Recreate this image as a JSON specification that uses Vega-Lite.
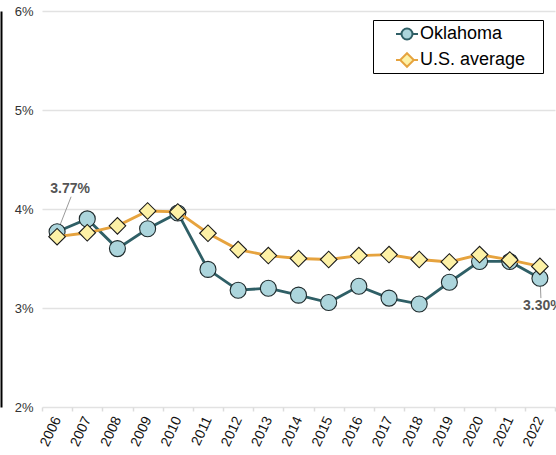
{
  "$schema": "https://vega.github.io/schema/vega-lite/v6.json",
  "autosize": "none",
  "width": 513,
  "height": 396,
  "padding": {"left": 42, "top": 11, "right": 1, "bottom": 48},
  "background": "white",
  "config": {
    "font": "Liberation Sans",
    "view": {"stroke": null}
  },
  "datasets": {
    "main": [
      {"year": "2006", "series": "Oklahoma", "value": 3.77},
      {"year": "2007", "series": "Oklahoma", "value": 3.90},
      {"year": "2008", "series": "Oklahoma", "value": 3.60},
      {"year": "2009", "series": "Oklahoma", "value": 3.80},
      {"year": "2010", "series": "Oklahoma", "value": 3.96},
      {"year": "2011", "series": "Oklahoma", "value": 3.39},
      {"year": "2012", "series": "Oklahoma", "value": 3.18},
      {"year": "2013", "series": "Oklahoma", "value": 3.20},
      {"year": "2014", "series": "Oklahoma", "value": 3.13},
      {"year": "2015", "series": "Oklahoma", "value": 3.055},
      {"year": "2016", "series": "Oklahoma", "value": 3.22},
      {"year": "2017", "series": "Oklahoma", "value": 3.10},
      {"year": "2018", "series": "Oklahoma", "value": 3.04},
      {"year": "2019", "series": "Oklahoma", "value": 3.26},
      {"year": "2020", "series": "Oklahoma", "value": 3.47},
      {"year": "2021", "series": "Oklahoma", "value": 3.47},
      {"year": "2022", "series": "Oklahoma", "value": 3.30},
      {"year": "2006", "series": "U.S. average", "value": 3.72},
      {"year": "2007", "series": "U.S. average", "value": 3.76},
      {"year": "2008", "series": "U.S. average", "value": 3.83},
      {"year": "2009", "series": "U.S. average", "value": 3.98},
      {"year": "2010", "series": "U.S. average", "value": 3.97},
      {"year": "2011", "series": "U.S. average", "value": 3.755},
      {"year": "2012", "series": "U.S. average", "value": 3.59},
      {"year": "2013", "series": "U.S. average", "value": 3.53},
      {"year": "2014", "series": "U.S. average", "value": 3.50},
      {"year": "2015", "series": "U.S. average", "value": 3.49},
      {"year": "2016", "series": "U.S. average", "value": 3.53},
      {"year": "2017", "series": "U.S. average", "value": 3.54},
      {"year": "2018", "series": "U.S. average", "value": 3.49},
      {"year": "2019", "series": "U.S. average", "value": 3.465},
      {"year": "2020", "series": "U.S. average", "value": 3.54},
      {"year": "2021", "series": "U.S. average", "value": 3.485},
      {"year": "2022", "series": "U.S. average", "value": 3.42}
    ],
    "notes": [
      {"year": "2006", "value": 3.77, "end": 4.124, "label": "3.77%"},
      {"year": "2022", "value": 3.30, "end": 3.10, "label": "3.30%"}
    ]
  },
  "encoding": {
    "x": {
      "field": "year",
      "type": "ordinal",
      "bandPosition": 0.5,
      "scale": {"type": "band", "paddingInner": 0, "paddingOuter": 0},
      "axis": {
        "title": null,
        "domain": false,
        "grid": false,
        "tickBand": "extent",
        "ticks": true,
        "tickSize": 4,
        "tickColor": "#dcdcdc",
        "tickWidth": 1.5,
        "labelAngle": -65,
        "labelFontSize": 14,
        "labelColor": "#111",
        "labelPadding": 6
      }
    },
    "y": {
      "field": "value",
      "type": "quantitative",
      "scale": {"domain": [2, 6], "nice": false, "zero": false},
      "axis": {
        "title": null,
        "values": [2, 3, 4, 5, 6],
        "labelExpr": "datum.value + '%'",
        "domain": true,
        "domainColor": "#000",
        "domainWidth": 2,
        "offset": 41,
        "ticks": false,
        "grid": true,
        "gridColor": "#e2e2e2",
        "gridWidth": 1.5,
        "labelFontSize": 13,
        "labelColor": "#333",
        "labelPadding": -32
      }
    }
  },
  "layer": [
    {
      "data": {"name": "notes"},
      "transform": [{"filter": "datum.year === '2006'"}],
      "mark": {"type": "text", "fontWeight": "bold", "fontSize": 14, "align": "center", "baseline": "alphabetic", "stroke": "white", "strokeWidth": 4, "fill": "white", "dx": 13, "dy": -39},
      "encoding": {"text": {"field": "label"}}
    },
    {
      "data": {"name": "notes"},
      "transform": [{"filter": "datum.year === '2022'"}],
      "mark": {"type": "text", "fontWeight": "bold", "fontSize": 14, "align": "center", "baseline": "alphabetic", "stroke": "white", "strokeWidth": 4, "fill": "white", "dx": 3, "dy": 32},
      "encoding": {"text": {"field": "label"}}
    },
    {
      "data": {"name": "notes"},
      "transform": [{"filter": "datum.year === '2006'"}],
      "mark": {"type": "rule", "color": "#9a9a9a", "strokeWidth": 1, "xOffset": 1.5, "x2Offset": 14, "yOffset": -3, "y2Offset": 0},
      "encoding": {
        "x2": {"field": "year", "bandPosition": 0.5},
        "y2": {"field": "end"}
      }
    },
    {
      "data": {"name": "notes"},
      "transform": [{"filter": "datum.year === '2022'"}],
      "mark": {"type": "rule", "color": "#9a9a9a", "strokeWidth": 1, "xOffset": 0.5, "x2Offset": 1, "yOffset": 8, "y2Offset": 0},
      "encoding": {
        "x2": {"field": "year", "bandPosition": 0.5},
        "y2": {"field": "end"}
      }
    },
    {
      "data": {"name": "main"},
      "transform": [{"filter": "datum.series === 'Oklahoma'"}],
      "mark": {"type": "line", "strokeWidth": 2.8},
      "encoding": {
        "stroke": {
          "field": "series",
          "type": "nominal",
          "scale": {"domain": ["Oklahoma", "U.S. average"], "range": ["#2f5f66", "#e6a33e"]},
          "legend": {
            "title": "\u00a0",
            "titleOrient": "right",
            "titleFontSize": 10,
            "titlePadding": 16,
            "orient": "none",
            "legendX": 331,
            "legendY": 9,
            "direction": "vertical",
            "strokeColor": "#000",
            "fillColor": "white",
            "padding": 2,
            "rowPadding": 4,
            "symbolOffset": 20,
            "symbolSize": 484,
            "symbolStrokeWidth": 2,
            "labelFontSize": 18,
            "labelColor": "#000",
            "labelOffset": 1,
            "encode": {
              "symbols": {
                "update": {
                  "shape": {"signal": "datum.value === 'Oklahoma' ? 'M-1,0H-0.5M0.5,0H1M0.5,0A0.5,0.5,0,1,1,-0.5,0A0.5,0.5,0,1,1,0.5,0' : 'M-1,0H-0.62M0.62,0H1M0,-0.62L0.62,0L0,0.62L-0.62,0Z'"},
                  "fill": {"signal": "datum.value === 'Oklahoma' ? '#acd5dc' : '#fdf1a6'"},
                  "opacity": {"value": 1},
                  "fillOpacity": {"value": 1}
                }
              }
            }
          }
        }
      }
    },
    {
      "data": {"name": "main"},
      "transform": [{"filter": "datum.series === 'Oklahoma'"}],
      "mark": {"type": "point", "shape": "circle", "filled": true, "fill": "#acd5dc", "stroke": "#1e2a2c", "strokeWidth": 1.1, "size": 256, "opacity": 1}
    },
    {
      "data": {"name": "main"},
      "transform": [{"filter": "datum.series === 'U.S. average'"}],
      "mark": {"type": "line", "strokeWidth": 2.8},
      "encoding": {
        "stroke": {"field": "series", "type": "nominal", "legend": null}
      }
    },
    {
      "data": {"name": "main"},
      "transform": [{"filter": "datum.series === 'U.S. average'"}],
      "mark": {"type": "point", "shape": "diamond", "filled": true, "fill": "#fdf1a6", "stroke": "#1a1a1a", "strokeWidth": 1.1, "size": 275, "opacity": 1}
    },
    {
      "data": {"name": "notes"},
      "transform": [{"filter": "datum.year === '2006'"}],
      "mark": {"type": "text", "fontWeight": "bold", "fontSize": 14, "align": "center", "baseline": "alphabetic", "color": "#555", "dx": 13, "dy": -39},
      "encoding": {"text": {"field": "label"}}
    },
    {
      "data": {"name": "notes"},
      "transform": [{"filter": "datum.year === '2022'"}],
      "mark": {"type": "text", "fontWeight": "bold", "fontSize": 14, "align": "center", "baseline": "alphabetic", "color": "#555", "dx": 3, "dy": 32},
      "encoding": {"text": {"field": "label"}}
    }
  ]
}
